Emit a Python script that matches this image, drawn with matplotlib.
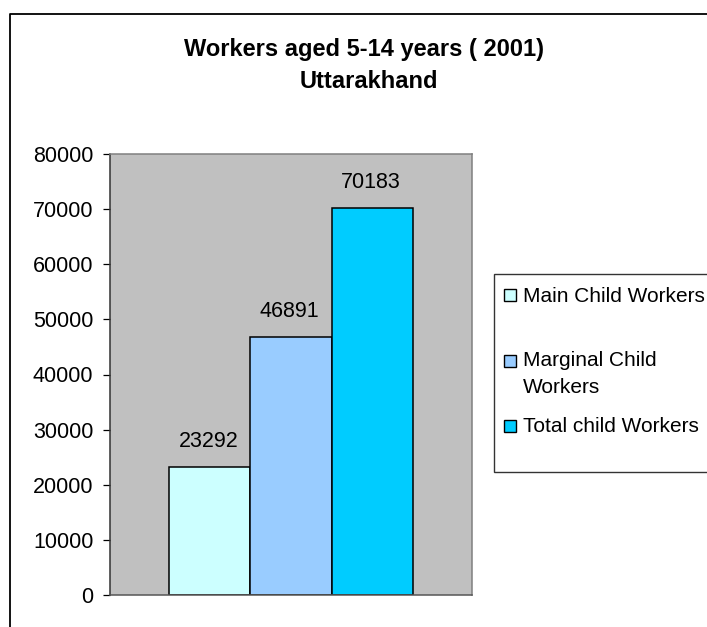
import matplotlib
matplotlib.use("Agg")
import matplotlib.pyplot as plt
from matplotlib.patches import Rectangle
from matplotlib.lines import Line2D

# dane
categories = ["Main Child Workers", "Marginal Child\nWorkers", "Total child Workers"]
values = [23292, 46891, 70183]
colors = ["#CCFFFF", "#99CCFF", "#00CCFF"]
yticks = [0, 10000, 20000, 30000, 40000, 50000, 60000, 70000, 80000]
title_lines = ["Workers aged 5-14 years ( 2001)", "Uttarakhand"]

W, H = 707, 627


def fx(px):
    return px / W


def fy(py):
    return 1 - py / H


def main():
    plt.rcParams["font.family"] = ["Liberation Sans", "DejaVu Sans"]
    fig = plt.figure(figsize=(W / 100, H / 100), dpi=100)

    # ramka całego wykresu (ucięta z prawej i z dołu)
    fig.add_artist(Line2D([fx(9.5), fx(9.5), fx(W + 5)], [fy(H + 5), fy(14), fy(14)],
                          transform=fig.transFigure, color="black", lw=1.3))

    # tytuł
    fig.text(fx(364), fy(56), title_lines[0], ha="center", va="baseline",
             fontsize=17, fontweight="bold")
    fig.text(fx(369), fy(88), title_lines[1], ha="center", va="baseline",
             fontsize=17, fontweight="bold")

    ax = fig.add_axes([fx(110), fy(595), fx(472) - fx(110), fy(154) - fy(595)])
    ax.set_facecolor("#C0C0C0")

    x = list(range(len(values)))
    bars = ax.bar(x, values, width=1.0, color=colors, edgecolor="black", linewidth=1.1)
    for b, v in zip(bars, values):
        ax.annotate(str(v), (b.get_x() + b.get_width() / 2, v), xytext=(-1, 14.4),
                    textcoords="offset points", ha="center", va="baseline", fontsize=15.5)

    ax.set_xlim(-1.23, 3.23)
    ax.set_ylim(0, 80000)
    ax.set_yticks(yticks)
    ax.set_yticklabels([str(t) for t in yticks])
    ax.tick_params(axis="y", length=5, width=0.9, pad=7, labelsize=15.5, direction="out")
    ax.tick_params(axis="x", length=0, labelbottom=False)

    ax.spines["left"].set_color("#333333")
    ax.spines["bottom"].set_color("#555555")
    ax.spines["top"].set_color("#808080")
    ax.spines["right"].set_color("#808080")
    for s in ax.spines.values():
        s.set_linewidth(1.1)

    # legenda w stylu Excela
    fig.add_artist(Rectangle((fx(494), fy(472)), fx(W + 10) - fx(494), fy(274) - fy(472),
                             transform=fig.transFigure, facecolor="white",
                             edgecolor="#333333", lw=1.0))
    marker_y = [295, 361, 426]
    text_y = [302, 393, 432]  # baseline ostatniej linii tekstu
    for c, label, my, ty in zip(colors, categories, marker_y, text_y):
        fig.add_artist(Rectangle((fx(504), fy(my + 6)), fx(12), fy(0) - fy(12),
                                 transform=fig.transFigure, facecolor=c,
                                 edgecolor="black", lw=1.0))
        fig.text(fx(523), fy(ty), label, ha="left", va="baseline", fontsize=15,
                 linespacing=1.5)

    fig.savefig("out.png", dpi=100)


if __name__ == "__main__":
    main()
